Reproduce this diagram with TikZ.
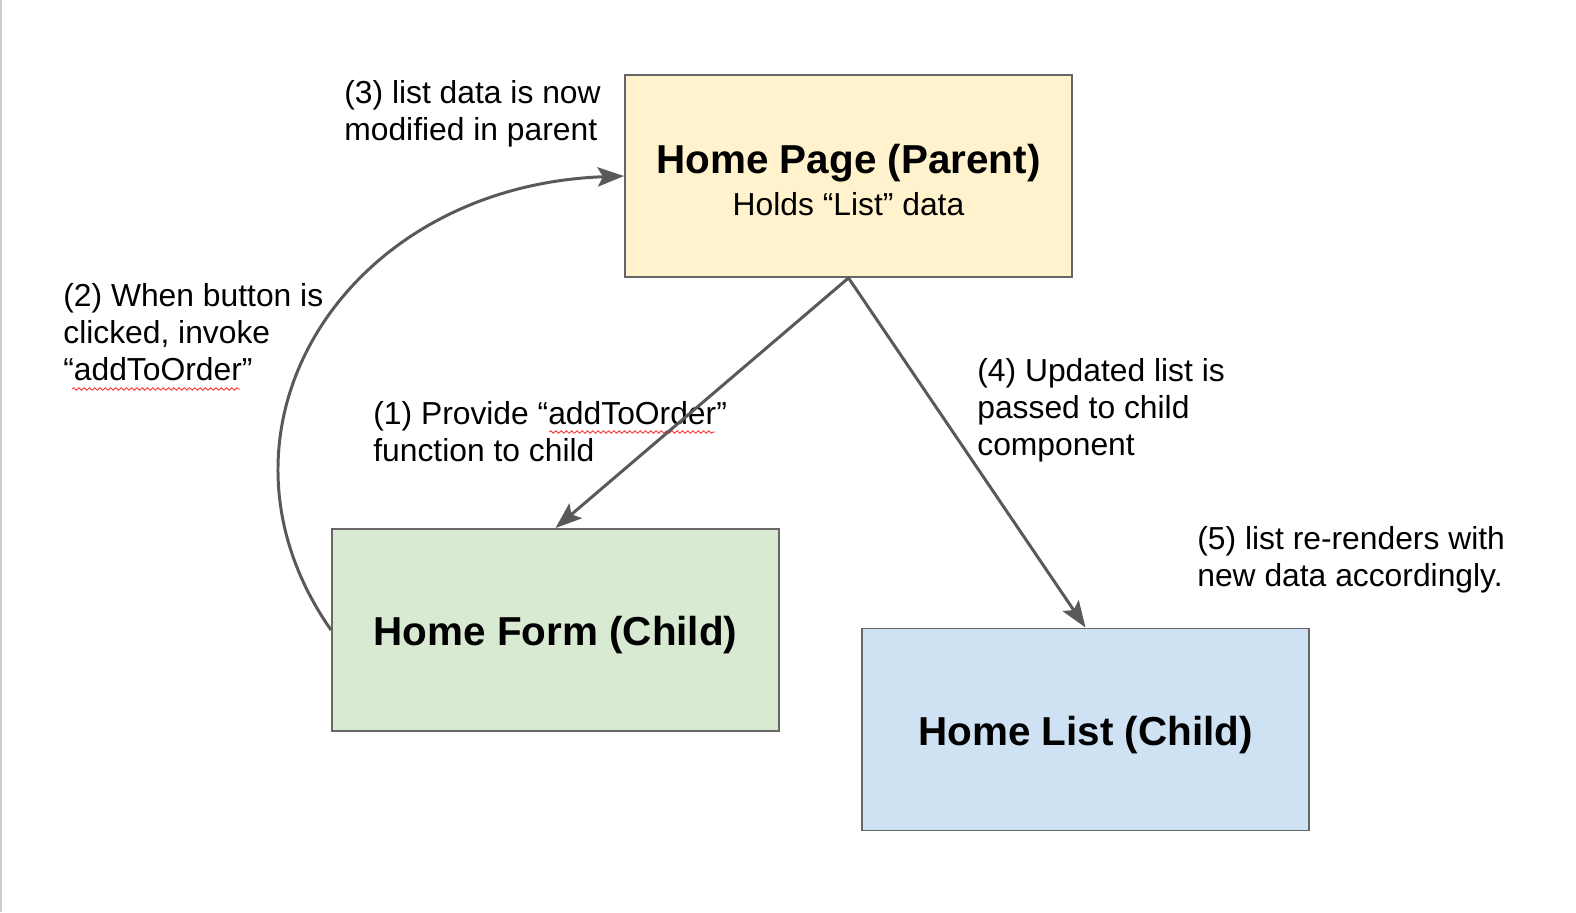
\documentclass[tikz,border=0pt]{standalone}
\usepackage{fontspec}
\setmainfont{Liberation Sans}
\usetikzlibrary{arrows.meta,positioning,decorations.pathmorphing}

\definecolor{parentfill}{HTML}{FFF2CC}
\definecolor{formfill}{HTML}{D9EAD3}
\definecolor{listfill}{HTML}{CFE2F3}
\definecolor{edgegray}{HTML}{595959}
\definecolor{boxgray}{HTML}{666666}

\newcommand{\titlefont}{\fontsize{23}{23.3}\selectfont\bfseries}
\newcommand{\notefont}{\fontsize{18.1}{21}\selectfont}

\begin{document}
\begin{tikzpicture}[
    comp/.style={draw=boxgray, line width=1.1pt, minimum width=8.94cm, minimum height=4.04cm, align=center, inner sep=0pt, text depth=0pt},
    note/.style={align=left, inner sep=0pt, anchor=west, font=\notefont},
    arr/.style={-{Stealth[length=15pt, width=11pt, inset=3pt]}, line width=1.7pt, edgegray},
    squig/.style={red!80!white, line width=0.5pt, decorate, decoration={snake, amplitude=0.7pt, segment length=3pt}}
]
\useasboundingbox (0,0) rectangle (31.52,18.24);
\draw[black!20, line width=1.2pt] (0.02,0) -- (0.02,18.24);

\node[comp, fill=parentfill, text height=44.6pt] (hp) at (16.97,14.72) {{\titlefont Home Page (Parent)}\\[4.5pt]{\notefont Holds “List” data}};
\node[comp, fill=formfill, text height=18pt] (hf) at (11.11,5.64) {\titlefont Home Form (Child)};
\node[comp, fill=listfill, text height=18pt] (hl) at (21.71,3.65) {\titlefont Home List (Child)};

% step labels
\node[note] (n3) at (6.88,15.96) {(3) list data is now\\modified in parent};
\node[note] (n2) at (1.26,11.59) {(2) When button is\\clicked, invoke\\“addToOrder”};
\node[note] (n1) at (7.46,9.61) {(1) Provide “addToOrder”\\function to child};
\node[note] (n4) at (19.54,10.04) {(4) Updated list is\\passed to child\\component};
\node[note] (n5) at (23.94,7.05) {(5) list re-renders with\\new data accordingly.};

\draw[squig] (1.44,10.46) -- (4.8,10.46);
\draw[squig] (10.98,9.60) -- (14.30,9.60);

\draw[arr] (hp.south) -- (hf.north);
\draw[arr] (hp.south) -- (hl.north);
\draw[arr] (hf.west) .. controls +(-2.8,4.0) and +(-5.6,-0.2) .. (hp.west);
\end{tikzpicture}
\end{document}
